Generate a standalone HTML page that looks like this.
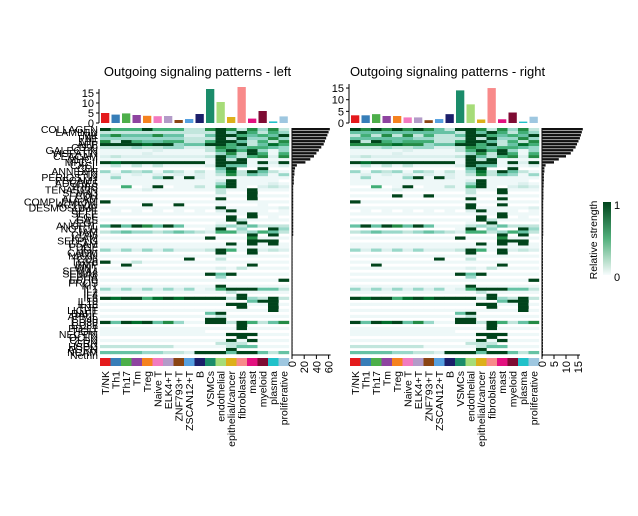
<!DOCTYPE html>
<html><head><meta charset="utf-8"><style>
html,body{margin:0;padding:0;background:#fff}
svg{display:block;font-family:"Liberation Sans",Arial,sans-serif}
</style></head><body>
<svg id="chart" width="638" height="516" viewBox="0 0 638 516"></svg>
<script>
const cellTypes=["T/NK","Th1","Th17","Tm","Treg","Naive T","ELK4+T","ZNF793+T","ZSCAN12+T","B","VSMCs","endothelial","epithelial/cancer","fibroblasts","mast","myeloid","plasma","proliferative"];
const typeColors=["#e41a1c","#377eb8","#4daf4a","#8e44a0","#f5821f","#f27ac0","#b39bc8","#8b4513","#56a0e0","#1c1f6b","#1b8c6a","#a6dc78","#ddb01a","#f88a8a","#e3117f","#7e0b33","#20c1c9","#9ec7e0"];
const pathways=["COLLAGEN","LAMININ","MK","FN1","MIF","APP","CD99","GALECTIN","VISFATIN","CEACAM","MHC-I","MHC-II","CXCL","CCL","ANNEXIN","PTN","PERIOSTIN","PECAM1","ADGRE5","THBS","TENASCIN","SEMA3","CDH","ALCAM","COMPLEMENT","ACTIVIN","DESMOSOME","SPP1","SELE","EGF","GAS","VEGF","ANGPTL","NOTCH","JAM","CD46","ICAM","SELPLG","ESAM","PDGF","IGF","CADM","NRXN","CD6","TGFb","BMP","WNT","SEMA4","SEMA6","EPHA","EPHB","PROS","KIT","IL1","IL2","IL4","IL6","IL10","IL16","TNF","LIGHT","BAFF","APRIL","CD40","CD80","CD86","PD-L1","TIGIT","NECTIN","OCLN","CLDN","GRN","HSPG","AGRN","NCAM","Netrin"];
const leftRows=["966696663379737473","333333333339496364","575557552259965659","444444443339394474","739655663369953637","999989945599693586","333433442237656654","111112111136969414","111121011114739616","232222222239536727","000100000019391111","989999999919991929","131313111129551212","000000000005900900","414341430304839531","121212121213735414","040004909200011000","111111111112911110","001111001114911120","006019011316910232","111121111113119111","000000000003009000","000000000001009000","000000000009009000","900001000111000000","000090090001000100","111111111119101112","010101010102911101","000000000000009000","000000000000909010","000000000010930000","000000000001090000","595975951113435333","000000000019040094","345443454326634653","000000000000009090","000000000090007000","000000000000009990","000000000000909090","111111111111111111","424242422239619232","000000000009009000","000000000000110000","000000009003000000","900300000001010000","009000000000009000","000000000002030000","000000000000000000","000000000095900000","000000000004000000","000000000000000009","000000000000000000","111111111119000000","424242424126999553","000000000000300000","000000000000090000","989968989999394393","000000000000005990","000000000000990090","000000000000090090","000000000000000090","000000000059000000","000000000003010000","000000000099000000","959895741199396357","000000000000090000","000000000000090000","111111111100000000","000000000000999000","000000000000090000","000000000000909000","000000000003330000","333333310000355000","000000000000900000","555544332999599535","000000000000000000"];
const rightRows=["979797975399737473","555555555539596364","363737363359965659","555555443339394474","939656663369953637","777787745599693586","333433442237656654","111112111136969414","111121011114739616","232222222239536727","000100000019391111","989999999919991929","131313111129551212","000000000005900900","414341430304839531","121212121213735414","040004909200011000","111111111112911110","001111001114911120","006019011316910232","111121111113119111","000000000003009000","000090090001000100","000000000009009000","900001000111000000","000000000009009000","111111111119101112","010101010102911101","000000000000009000","000000000000909010","000000000010930000","000000000001090000","595975951113435333","000000000019040094","345443454326634653","000000000000009090","000000000090007000","000000000000009990","000000000000909090","111111111111111111","424242422239619232","000000000009009000","000000000000110000","000000009003000000","000000000001010000","009000000000009000","000000000002030000","000000000000000000","000000000095900000","000000000004000000","000000000000000009","000000000000000000","111111111119000000","424242424126999553","000000000000300000","000000000000090000","989968989999394393","000000000000005990","000000000000990090","000000000000090090","000000000000000090","000000000059000000","000000000003010000","000000000099000000","959895741199396357","000000000000090000","000000000000090000","111111111100000000","000000000000999000","000000000000090000","000000000000909000","000000000003330000","333333310000355000","000000000000900000","555544332999599535","000000000000000000"];
const leftColTotals=[5,4.2,4.8,4,3.6,3.4,3.5,1.5,2,4.5,17,10.5,3,18,2.2,6,0.8,3.3];
const rightColTotals=[3.3,3.3,3.8,3,3,2.4,2.4,1.2,1.7,3.8,14,8,1.5,15,1.6,4.5,0.6,2.7];
const leftRowTotals=[62,60,58,56,54,52,48,44,40,36,30,22,8,5,4,4,3,3,3,2,2,2,2,2,2,2,2,2,2,2,2,2,2,2,2,2,1,1,1,1,1,1,1,1,1,1,1,1,1,1,1,1,1,1,1,1,1,1,1,1,1,1,1,1,1,1,1,1,1,1,1,1,1,1,1,1];
const rightRowTotals=[17,16.6,16.2,15.8,15.2,14.6,14,13,12,10,7,5,1.5,1,1,0.8,0.8,0.8,0.7,0.7,0.6,0.6,0.6,0.6,0.5,0.5,0.5,0.5,0.5,0.5,0.5,0.5,0.5,0.5,0.5,0.5,0.4,0.4,0.4,0.4,0.4,0.4,0.4,0.4,0.4,0.4,0.4,0.4,0.4,0.4,0.4,0.4,0.4,0.4,0.4,0.4,0.4,0.4,0.4,0.4,0.4,0.4,0.4,0.4,0.4,0.4,0.4,0.4,0.4,0.4,0.4,0.4,0.4,0.4,0.4,0.4];
const leftColTicks=[0,5,10,15];
const rightColTicks=[0,5,10,15];
const leftRowTicks=[0,20,40,60];
const rightRowTicks=[0,5,10,15];

const NS="http://www.w3.org/2000/svg";
const svg=document.getElementById("chart");
function mk(tag,attrs,parent,text){const e=document.createElementNS(NS,tag);for(const k in attrs)e.setAttribute(k,attrs[k]);if(text!==undefined)e.textContent=text;(parent||svg).appendChild(e);return e;}
const ramp=["#ffffff","#eef8f8","#dcf0ee","#c2e6dd","#99d8c9","#66c2a4","#41ae76","#238b45","#006d2c","#00441b"];

function panel(opt){
  const g=mk("g",{});
  
  
  const x0=opt.x0,W=189,y0=128,H=229,nC=cellTypes.length,cw=W/nC;
  const nR=opt.rows.length,rh=H/nR;
  const colX=i=>x0+i*cw;
  const rowY=r=>y0+r*rh;
  const t=mk("text",{x:x0+W/2-(opt.titleShift||0),y:76,"font-size":13,"text-anchor":"middle",fill:"#000"},g,opt.title);
  
  
  const base=123,sc=opt.colScale;
  const barY=v=>base-v*sc;
  const ax=mk("g",{},g);
  
  
  mk("line",{x1:x0-1,x2:x0-1,y1:barY(opt.colTicks[opt.colTicks.length-1])-4,y2:base,stroke:"#000","stroke-width":1},ax);
  opt.colTicks.forEach(v=>{
    mk("line",{x1:x0-4,x2:x0-1,y1:barY(v),y2:barY(v),stroke:"#000"},ax);
    const tt=mk("text",{x:x0-6,y:barY(v)+4,"font-size":11,"text-anchor":"end"},ax,String(v));
    
    
  });
  opt.colTotals.forEach((v,i)=>{
    const b=mk("rect",{x:colX(i)+1,y:barY(v),width:cw-2.2,height:v*sc,fill:typeColors[i]},g);
    
    
  });
  const hm=mk("g",{},g);
  
  
  opt.rows.forEach((row,r)=>{
    for(let c=0;c<nC;c++){
      const v=+row[c];
      const base=r%2===0?1:0;
      const k=Math.max(v,base);
      if(k===0)continue;
      const cell=mk("rect",{x:colX(c),y:rowY(r),width:cw+0.2,height:rh+0.2,fill:ramp[k]},hm);
      
      
    }
  });
  cellTypes.forEach((n,i)=>{
    const a=mk("rect",{x:colX(i),y:358,width:cw+0.2,height:8,fill:typeColors[i]},g);
    
    
    const cx=colX(i)+cw/2+3.5;
    const l=mk("text",{x:0,y:0,"font-size":10.5,"text-anchor":"end",transform:`translate(${cx},371) rotate(-90)`},g,n);
    
    
  });
  const rx0=x0+W+3,rsc=opt.rowScale;
  const rowX=v=>rx0+v*rsc;
  const ra=mk("g",{},g);
  
  
  mk("line",{x1:rx0,x2:rx0,y1:y0,y2:355,stroke:"#000"},ra);
  mk("line",{x1:rx0,x2:rowX(opt.rowTicks[opt.rowTicks.length-1])+2,y1:355,y2:355,stroke:"#000"},ra);
  opt.rowTicks.forEach(v=>{
    mk("line",{x1:rowX(v),x2:rowX(v),y1:355,y2:359,stroke:"#000"},ra);
    const tt=mk("text",{x:0,y:0,"font-size":11,"text-anchor":"end",transform:`translate(${rowX(v)+4},361) rotate(-90)`},ra,String(v));
    
    
  });
  opt.rowTotals.forEach((v,r)=>{
    if(r>=nR)return;
    const b=mk("rect",{x:rx0,y:rowY(r),width:v*rsc,height:rh*0.8,fill:"#111"},g);
    
    
  });
  if(opt.labels){
    pathways.forEach((p,r)=>{
      if(r>=nR)return;
      const l=mk("text",{x:x0-2,y:rowY(r)+rh/2+3.5,"font-size":10.5,"text-anchor":"end"},g,p);
      
      
    });
  }
}
panel({name:"left-panel",x0:100,title:"Outgoing signaling patterns - left",rows:leftRows,colTotals:leftColTotals,rowTotals:leftRowTotals,colTicks:leftColTicks,rowTicks:leftRowTicks,colScale:2,rowScale:0.61,labels:true,titleShift:-3});
panel({name:"right-panel",x0:350,title:"Outgoing signaling patterns - right",rows:rightRows,colTotals:rightColTotals,rowTotals:rightRowTotals,colTicks:rightColTicks,rowTicks:rightRowTicks,colScale:2.33,rowScale:2.4,labels:false,titleShift:-3});

const defs=mk("defs",{});
const lg=mk("linearGradient",{id:"lgd",x1:0,y1:1,x2:0,y2:0},defs);
mk("stop",{offset:"0","stop-color":"#f7fcfd"},lg);
mk("stop",{offset:"0.5","stop-color":"#52b07c"},lg);
mk("stop",{offset:"1","stop-color":"#00441b"},lg);
const leg=mk("g",{});


mk("rect",{x:603,y:202,width:8,height:73,fill:"url(#lgd)"},leg);
mk("text",{x:614,y:209,"font-size":11},leg,"1");
mk("text",{x:614,y:281,"font-size":11},leg,"0");
const lt=mk("text",{x:0,y:0,"font-size":10.5,"text-anchor":"middle",transform:"translate(597,240) rotate(-90)"},leg,"Relative strength");


</script>
</body></html>
